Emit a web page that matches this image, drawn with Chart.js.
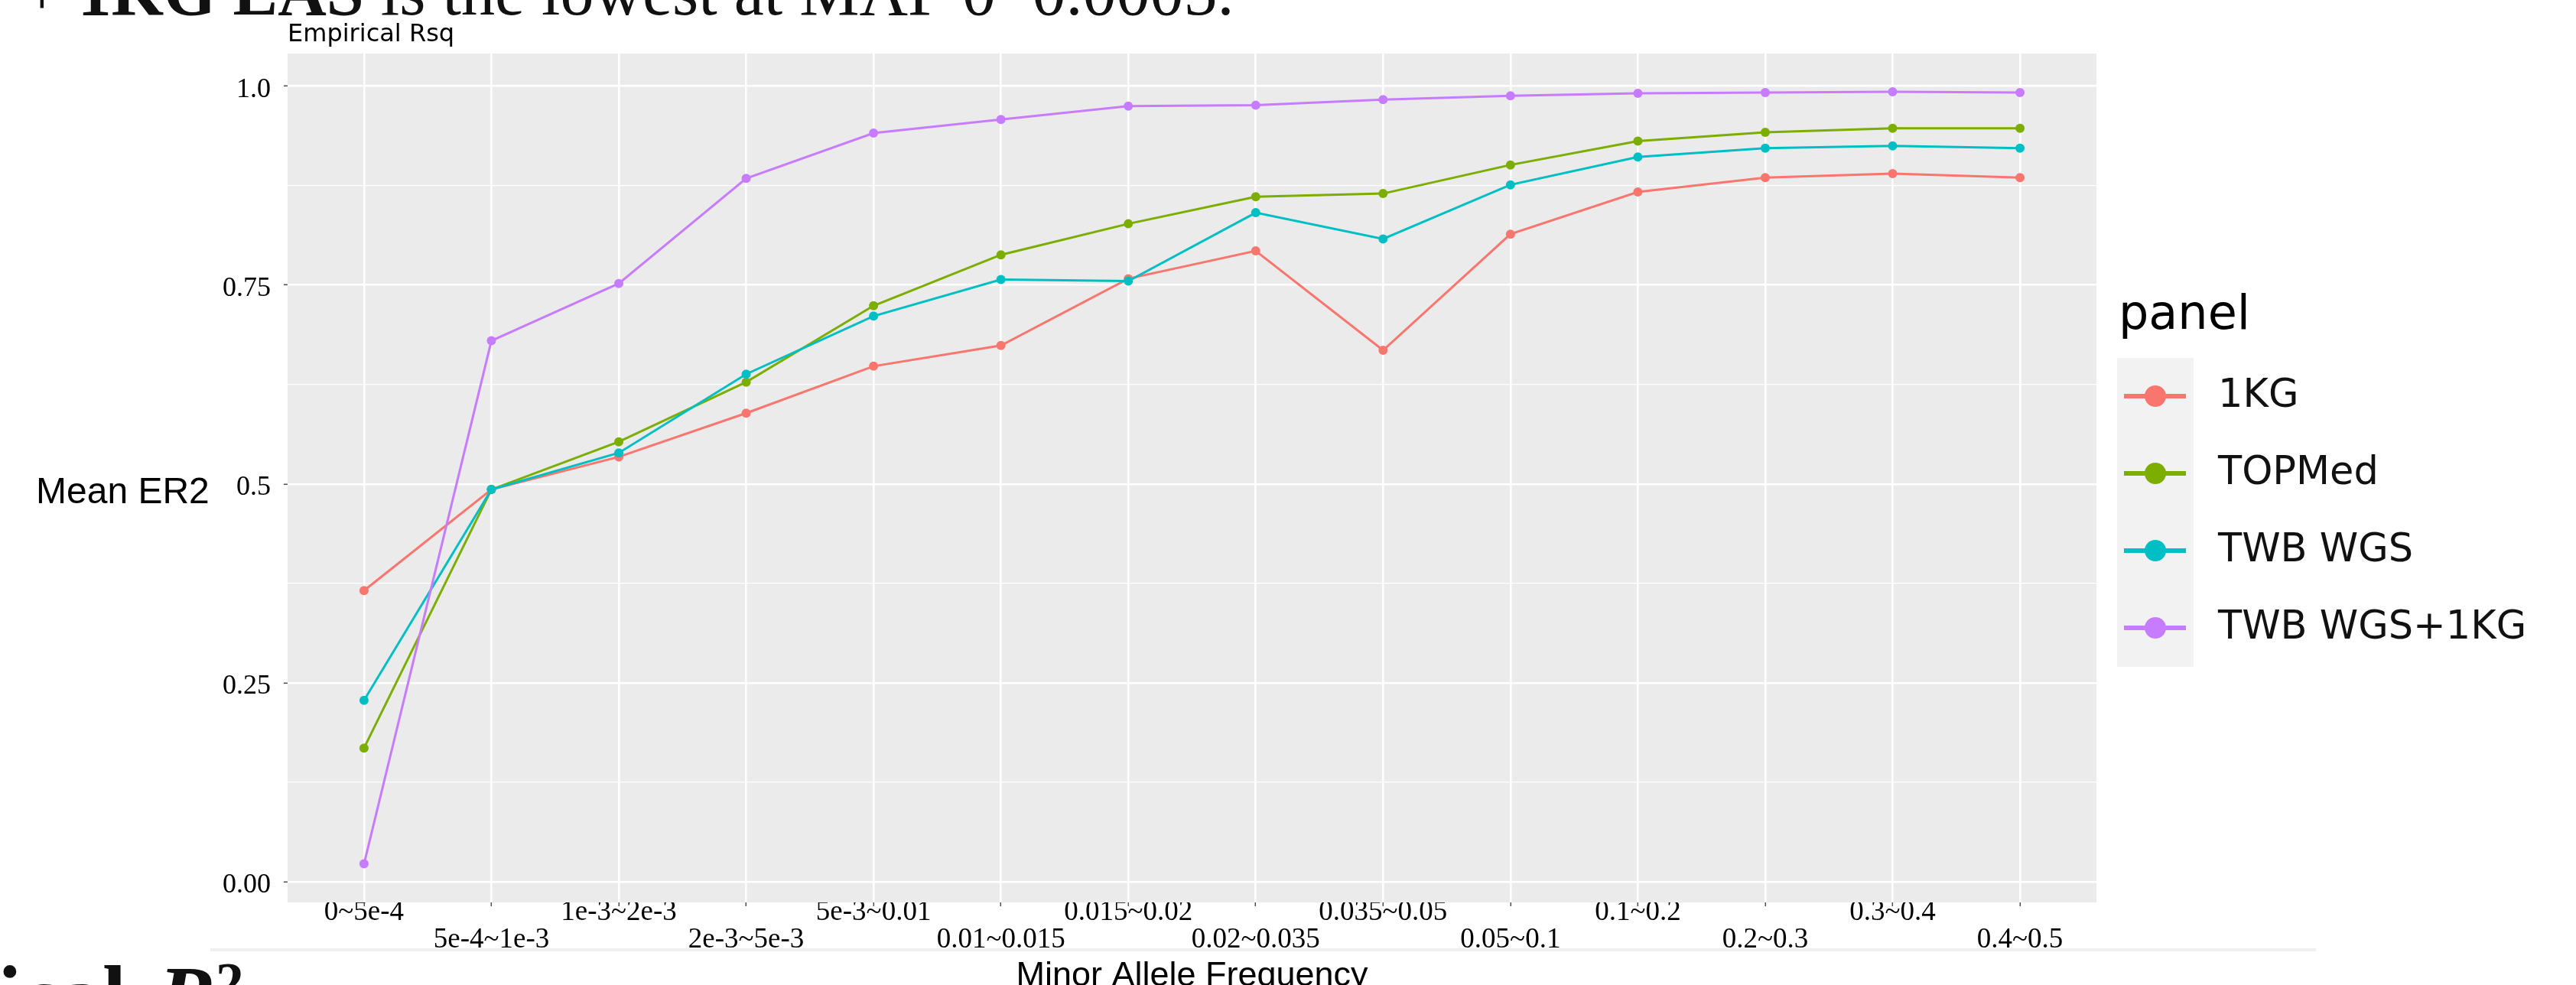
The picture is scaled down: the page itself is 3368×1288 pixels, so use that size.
<!DOCTYPE html>
<html>
<head>
<meta charset="utf-8">
<title>Empirical Rsq</title>
<script src="https://cdn.jsdelivr.net/npm/chart.js@4.4.1/dist/chart.umd.min.js"></script>
<style>
  html, body { margin: 0; padding: 0; background: #fff; overflow: hidden; }
  #wrap { position: relative; width: 3368px; height: 1288px; overflow: hidden; }
  #chart { position: absolute; left: 0; top: 0; }
  .slide { position: absolute; white-space: nowrap; line-height: 1; color: #111; }
  #headline { left: 30px; top: -61px; font: 88px "Liberation Serif", serif; }
  #heading2 { left: -314px; top: 1238px; font: bold 112px "Liberation Serif", serif; }
  #heading2 i { margin-left: 14px; }
  #heading2 sup { font-size: 74px; vertical-align: 30px; line-height: 0; }
  #ylab { left: 47px; top: 614px; font: 48px "Liberation Sans", Arial, sans-serif; color: #000; }
  #rule { left: 275px; top: 1240px; width: 2753px; height: 4px; background: #efefef; }
</style>
</head>
<body>
<div id="wrap">
  <canvas id="chart" width="3368" height="1304"></canvas>
  <div class="slide" id="headline">+ <b>1KG EAS</b> is the lowest at MAF 0~0.0005.</div>
  <div class="slide" id="ylab">Mean ER2</div>
  <div class="slide" id="rule"></div>
  <div class="slide" id="heading2">Empirical <i>R</i><sup>2</sup></div>
</div>
<script>
const plotTitle = "Empirical Rsq";
const xTitle = "Minor Allele Frequency";
const legendTitle = "panel";

const categories = [
  "0~5e-4", "5e-4~1e-3", "1e-3~2e-3", "2e-3~5e-3", "5e-3~0.01",
  "0.01~0.015", "0.015~0.02", "0.02~0.035", "0.035~0.05", "0.05~0.1",
  "0.1~0.2", "0.2~0.3", "0.3~0.4", "0.4~0.5",
];

const seriesNames = ["1KG", "TOPMed", "TWB WGS", "TWB WGS+1KG"];
const seriesColors = ["#F8766D", "#7CAE00", "#00BFC4", "#C77CFF"];

const values1KG = [0.366, 0.493, 0.534, 0.589, 0.648, 0.674, 0.758, 0.793, 0.668, 0.814, 0.867, 0.885, 0.890, 0.885];
const valuesTOPMed = [0.168, 0.493, 0.553, 0.628, 0.724, 0.788, 0.827, 0.861, 0.865, 0.901, 0.931, 0.942, 0.947, 0.947];
const valuesTWB = [0.228, 0.493, 0.539, 0.638, 0.711, 0.757, 0.755, 0.841, 0.808, 0.876, 0.911, 0.922, 0.925, 0.922];
const valuesTWB1KG = [0.0225, 0.680, 0.752, 0.884, 0.941, 0.958, 0.975, 0.976, 0.983, 0.988, 0.991, 0.992, 0.993, 0.992];

const yMajorTicks = [0, 0.25, 0.5, 0.75, 1.0];
const yTickLabels = ["0.00", "0.25", "0.5", "0.75", "1.0"];
const yMinorTicks = [0.125, 0.375, 0.625, 0.875];

const isMinor = (v) => yMinorTicks.includes(v);

// panel background, title and legend in ggplot style
const ggDecor = {
  id: "ggDecor",
  beforeDraw(chart) {
    const { ctx, chartArea: a } = chart;
    ctx.save();
    ctx.fillStyle = "#EBEBEB";
    ctx.fillRect(a.left, a.top, a.right - a.left, a.bottom - a.top);
    ctx.restore();
  },
  afterDraw(chart) {
    const { ctx, chartArea: a } = chart;
    const keyX = a.right + 27;
    ctx.save();
    ctx.fillStyle = "#000";
    ctx.textBaseline = "alphabetic";
    ctx.font = '32px "DejaVu Sans"';
    ctx.fillText(plotTitle, a.left, 54);

    ctx.font = '62px "DejaVu Sans"';
    ctx.fillText(legendTitle, keyX + 2, 430);

    ctx.fillStyle = "#F2F2F2";
    ctx.fillRect(keyX, 468, 100, 404);

    chart.data.datasets.forEach((ds, k) => {
      const cy = 518 + k * 101;
      ctx.strokeStyle = ds.borderColor;
      ctx.lineWidth = 6;
      ctx.beginPath();
      ctx.moveTo(keyX + 9, cy);
      ctx.lineTo(keyX + 90, cy);
      ctx.stroke();
      ctx.fillStyle = ds.borderColor;
      ctx.beginPath();
      ctx.arc(keyX + 50, cy, 14, 0, Math.PI * 2);
      ctx.fill();
      ctx.fillStyle = "#111";
      ctx.font = '51px "DejaVu Sans"';
      ctx.textBaseline = "middle";
      ctx.fillText(ds.label, keyX + 132, cy + 1);
    });
    ctx.restore();
  },
};

const allSeries = [values1KG, valuesTOPMed, valuesTWB, valuesTWB1KG];

const datasets = allSeries.map((vals, k) => ({
  label: seriesNames[k],
  data: vals.map((v, i) => ({ x: i, y: v })),
  borderColor: seriesColors[k],
  backgroundColor: seriesColors[k],
  pointBackgroundColor: seriesColors[k],
  borderWidth: 3,
  pointRadius: 6,
  pointHoverRadius: 6,
  pointBorderWidth: 0,
  tension: 0,
  order: seriesNames.length - k,
}));

new Chart(document.getElementById("chart"), {
  type: "line",
  data: { datasets },
  options: {
    responsive: false,
    animation: false,
    devicePixelRatio: 1,
    events: [],
    layout: { padding: { left: 0, right: 627, top: 70, bottom: 0 } },
    plugins: {
      legend: { display: false },
      tooltip: { enabled: false },
    },
    scales: {
      x: {
        type: "linear",
        min: -0.6,
        max: categories.length - 0.4,
        afterBuildTicks: (s) => {
          s.ticks = categories.map((_, i) => ({ value: i }));
        },
        afterFit: (s) => {
          s.height = 124;
        },
        border: { display: false },
        grid: {
          color: "#FFFFFF",
          lineWidth: 2.6,
          tickLength: 5,
          tickWidth: 1.5,
          tickColor: "#4d4d4d",
        },
        ticks: {
          autoSkip: false,
          maxRotation: 0,
          minRotation: 0,
          padding: -10,
          color: "#000",
          font: { family: "Liberation Serif", size: 37, lineHeight: "36px" },
          callback: (v, i) => (i % 2 === 0 ? categories[i] : ["", categories[i]]),
        },
        title: {
          display: true,
          text: xTitle,
          color: "#000",
          padding: 0,
          font: { family: "Liberation Sans", size: 45, lineHeight: 1.2 },
        },
      },
      y: {
        type: "linear",
        min: -0.026,
        max: 1.041,
        afterBuildTicks: (s) => {
          s.ticks = [...yMajorTicks, ...yMinorTicks]
            .sort((p, q) => p - q)
            .map((v) => ({ value: v }));
        },
        afterFit: (s) => {
          s.width = 376;
        },
        border: { display: false },
        grid: {
          color: "#FFFFFF",
          lineWidth: (c) => (isMinor(c.tick.value) ? 1.3 : 2.6),
          tickLength: 5,
          tickWidth: 1.5,
          tickColor: (c) => (isMinor(c.tick.value) ? "rgba(0,0,0,0)" : "#4d4d4d"),
        },
        ticks: {
          autoSkip: false,
          padding: 17,
          labelOffset: 5,
          color: "#000",
          font: { family: "Liberation Serif", size: 36 },
          callback: (v) => {
            const i = yMajorTicks.indexOf(v);
            return i < 0 ? "" : yTickLabels[i];
          },
        },
      },
    },
  },
  plugins: [ggDecor],
});
</script>
</body>
</html>
